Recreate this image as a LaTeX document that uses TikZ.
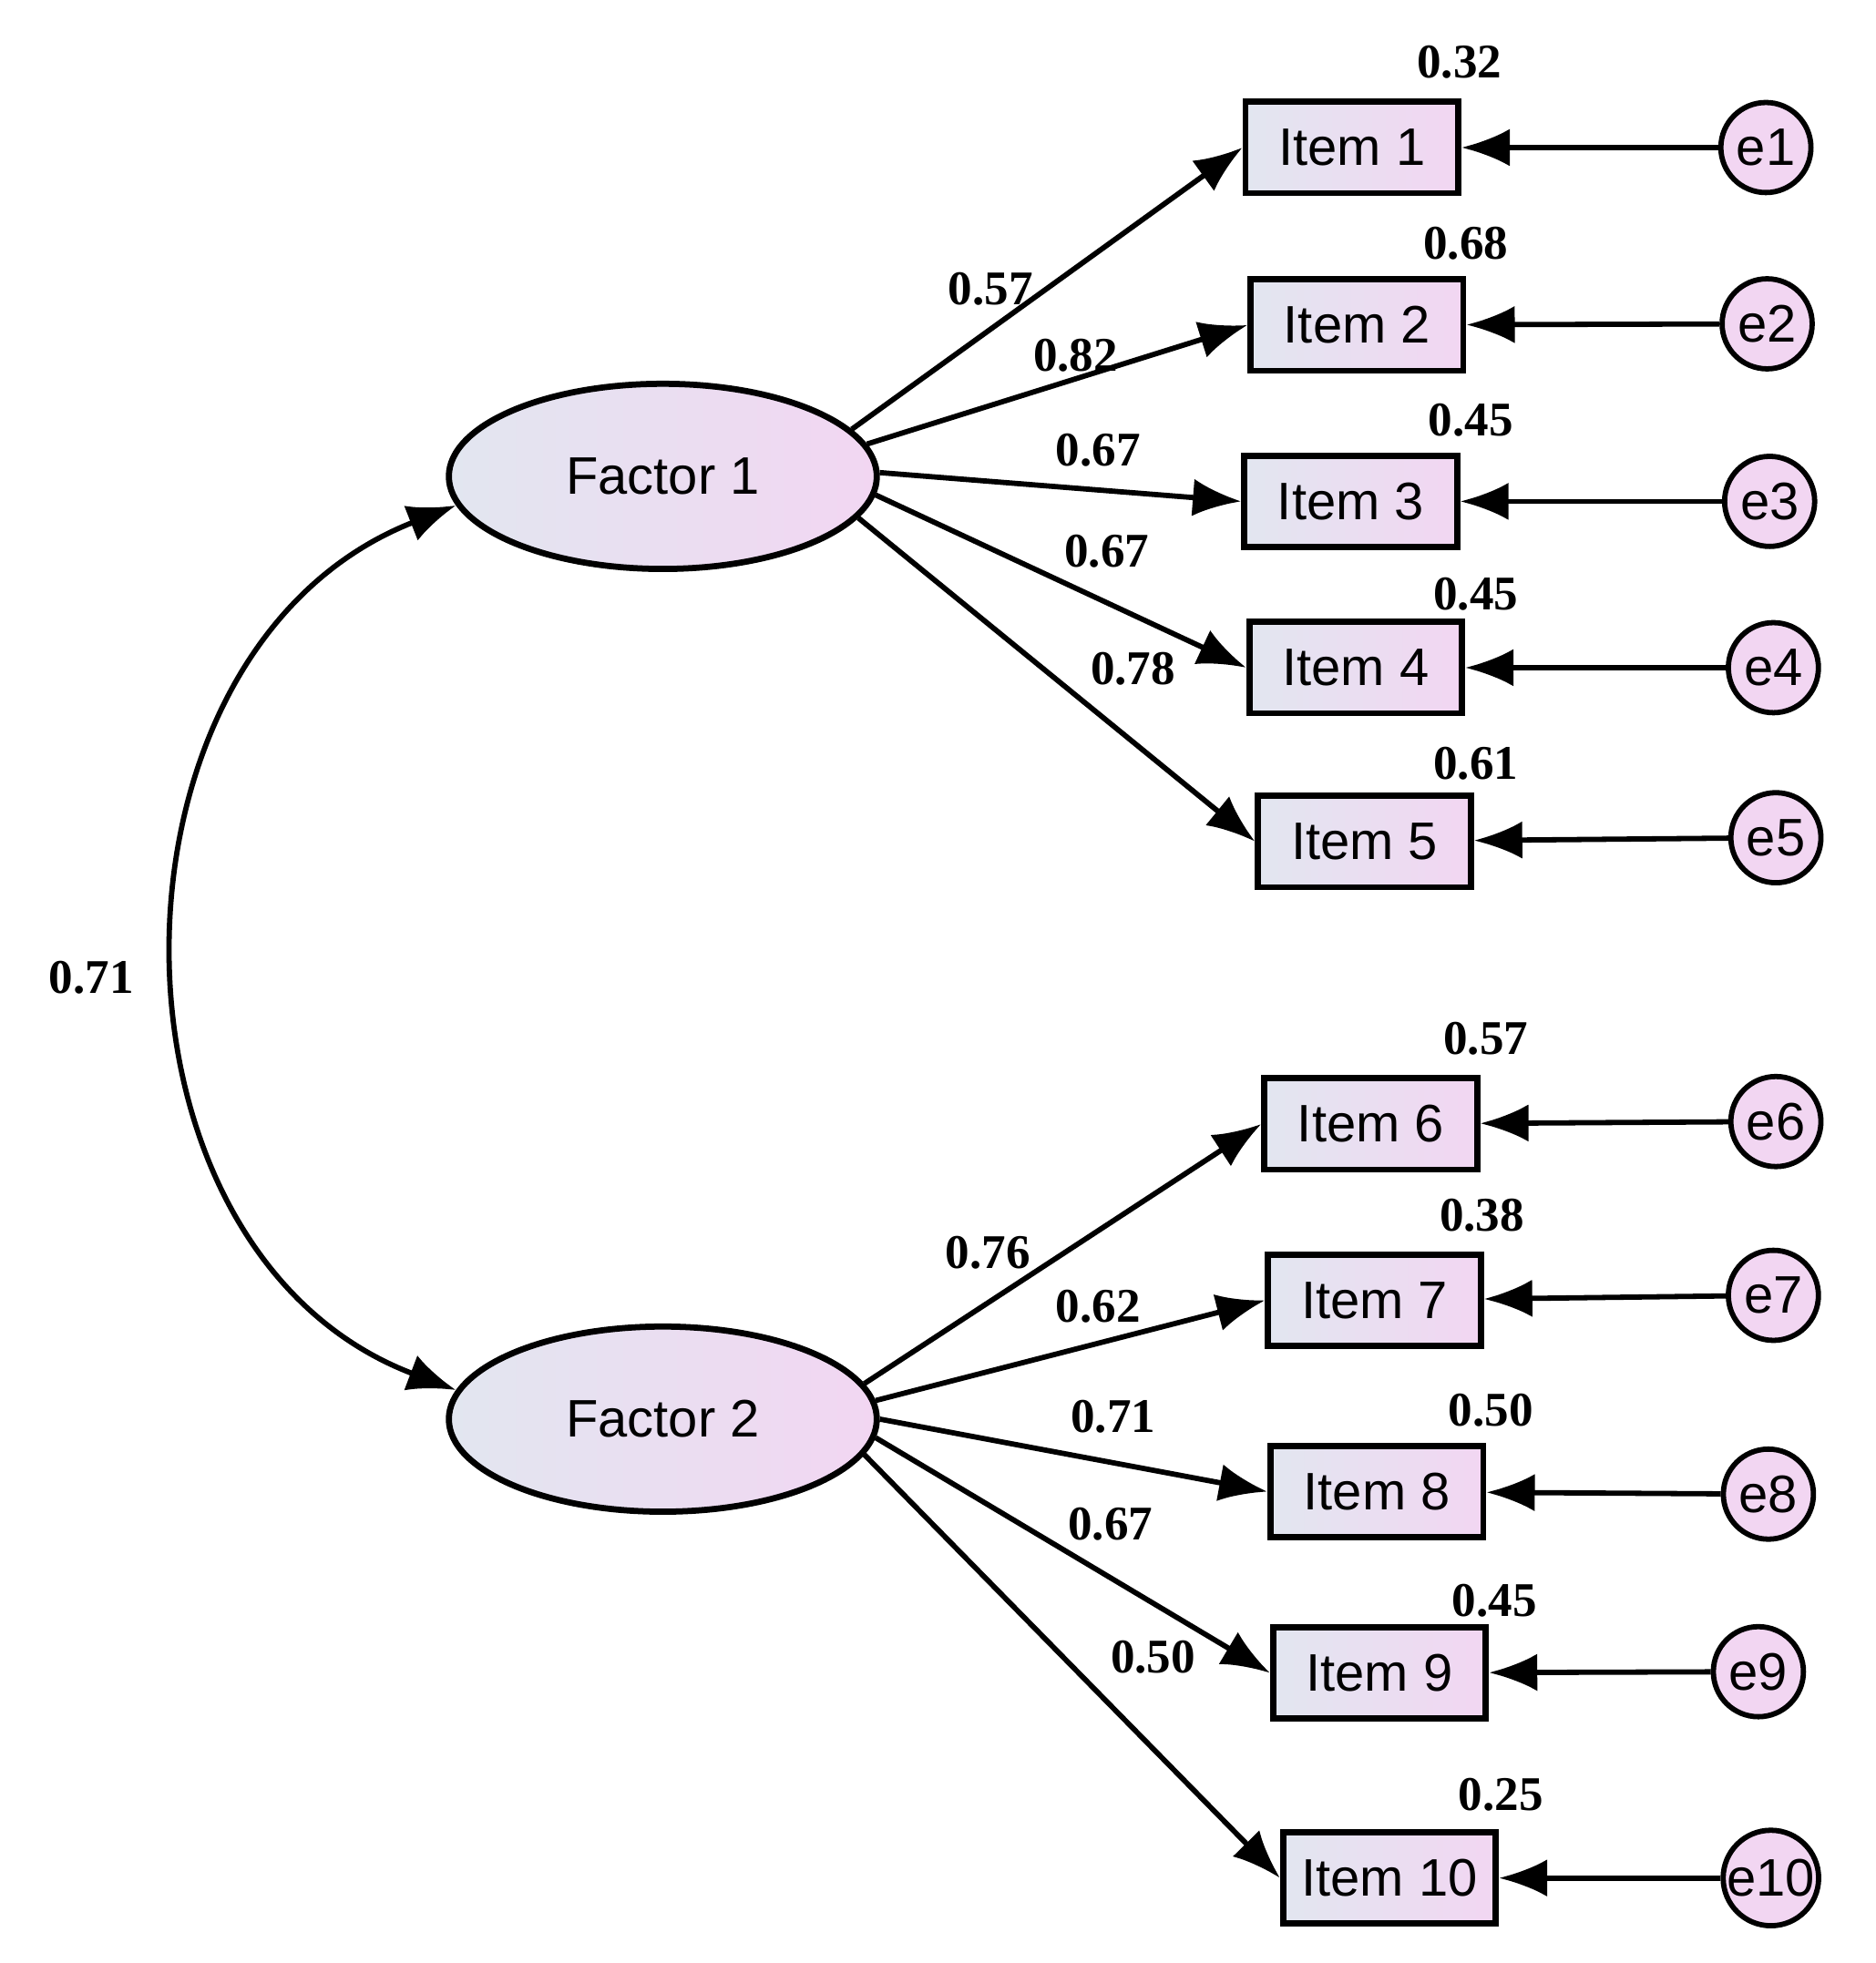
\documentclass[tikz,border=0pt]{standalone}
\usepackage{fontspec}
\setmainfont{Liberation Sans}
\newfontfamily\lab{Liberation Serif}
\usetikzlibrary{arrows.meta,shapes.geometric}
\definecolor{lb}{RGB}{226,230,240}
\definecolor{pk}{RGB}{242,214,242}
\tikzset{
 fac/.style={ellipse,draw,line width=1.4pt,left color=lb,right color=pk,minimum width=3.42cm,minimum height=1.48cm,font=\fontsize{12}{14}\selectfont},
 item/.style={rectangle,draw,line width=1.4pt,left color=lb,right color=pk,minimum width=1.7cm,minimum height=0.73cm,font=\fontsize{12}{14}\selectfont},
 err/.style={circle,draw,line width=1.2pt,fill=pk,minimum size=0.72cm,inner sep=0pt,font=\fontsize{12}{14}\selectfont},
 num/.style={font=\lab\bfseries\fontsize{11}{13}\selectfont},
 arr/.style={line width=1.2pt,-{Latex[length=11pt,width=8.5pt]}},
}
\begin{document}
\begin{tikzpicture}[x=0.01cm,y=-0.01cm]
\useasboundingbox (0,0) rectangle (1500,1570);
\node[fac] (f1) at (530,381) {Factor 1};
\node[fac] (f2) at (530,1135) {Factor 2};
\foreach \n/\x/\y/\ex/\ey/\v/\vx/\vy in {
 1/1081/118/1412/118/0.32/1167/50,
 2/1085/260/1413/259/0.68/1172/195,
 3/1080/401/1415/401/0.45/1176/336,
 4/1084/534/1418/534/0.45/1180/475,
 5/1091/673/1420/670/0.61/1180/611,
 6/1096/899/1420/897/0.57/1188/831,
 7/1099/1040/1418/1036/0.38/1185/972,
 8/1101/1193/1414/1195/0.50/1192/1128,
 9/1103/1338/1406/1337/0.45/1195/1280,
 10/1111/1502/1416/1502/0.25/1200/1435}{
 \node[item] (i\n) at (\x,\y) {Item \n};
 \node[err] (e\n) at (\ex,\ey) {e\n};
 \node[num] (v\n) at (\vx,\vy) {\v};
 \draw[arr] (e\n) -- (i\n);
}
\foreach \n/\a/\l/\lx/\ly in {1/14/0.57/792/231,2/9/0.82/860/284,3/1/0.67/878/360,4/-5/0.67/885/441,5/-12/0.78/906/535}{
 \draw[arr] (f1.\a) -- (i\n.west);
 \node[num] (l\n) at (\lx,\ly) {\l};
}
\foreach \n/\a/\l/\lx/\ly in {6/10/0.76/790/1002,7/5/0.62/878/1045,8/0/0.71/890/1133,9/-5/0.67/888/1219,10/-10/0.50/922/1325}{
 \draw[arr] (f2.\a) -- (i\n.west);
 \node[num] (l\n) at (\lx,\ly) {\l};
}
\draw[line width=1.2pt,{Latex[length=11pt,width=8.5pt]}-{Latex[length=11pt,width=8.5pt]}] (f1.188) .. controls (70,520) and (70,1000) .. (f2.172);
\node[num] (cov) at (73,782) {0.71};
\end{tikzpicture}
\end{document}
